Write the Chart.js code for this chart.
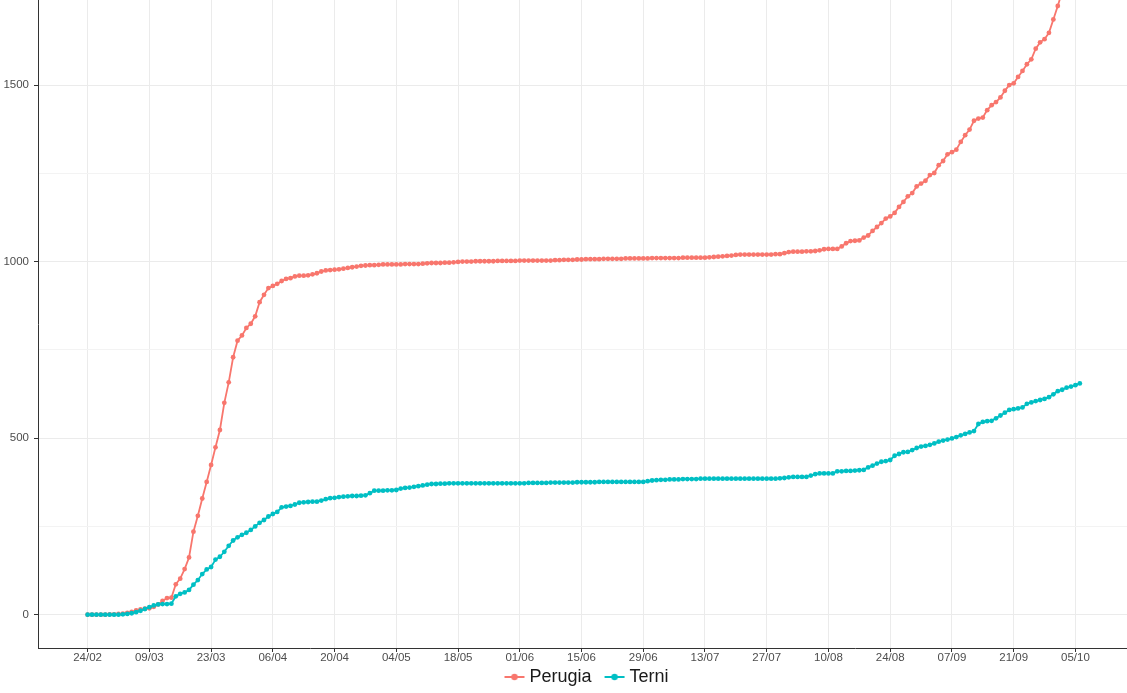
<!DOCTYPE html>
<html>
<head>
<meta charset="utf-8">
<script src="https://cdn.jsdelivr.net/npm/chart.js@4/dist/chart.umd.min.js"></script>
<style>
  html, body { margin: 0; padding: 0; background: #fff; }
</style>
</head>
<body>
<canvas id="casesChart" width="1127" height="693"></canvas>
<script>
// day 0 = 24/02, one value per day up to 06/10
const perugia = [
    0, 0, 0, 0, 0, 1, 1, 2, 3, 5,
    8, 12, 15, 17, 18, 22, 29, 39, 47, 48,
    86, 102, 129, 162, 235, 280, 329, 376, 424, 474,
    523, 600, 658, 729, 776, 791, 812, 824, 845, 885,
    906, 925, 931, 937, 945, 951, 953, 958, 960, 960,
    961, 964, 967, 972, 975, 976, 977, 978, 980, 982,
    984, 986, 988, 989, 990, 990, 991, 992, 992, 992,
    992, 992, 993, 993, 993, 993, 994, 995, 996, 996,
    996, 997, 997, 998, 999, 1000, 1000, 1000, 1001, 1001,
    1001, 1001, 1001, 1002, 1002, 1002, 1002, 1002, 1003, 1003,
    1003, 1003, 1003, 1003, 1003, 1003, 1004, 1004, 1005, 1005,
    1005, 1006, 1006, 1007, 1007, 1007, 1007, 1008, 1008, 1008,
    1008, 1008, 1009, 1009, 1009, 1009, 1009, 1009, 1010, 1010,
    1010, 1010, 1010, 1010, 1010, 1011, 1011, 1011, 1011, 1011,
    1011, 1012, 1013, 1014, 1015, 1016, 1017, 1019, 1020, 1020,
    1020, 1020, 1020, 1020, 1020, 1020, 1021, 1021, 1024, 1027,
    1028, 1028, 1028, 1029, 1029, 1030, 1032, 1035, 1036, 1036,
    1036, 1043, 1052, 1058, 1059, 1060, 1068, 1074, 1087, 1098,
    1109, 1122, 1128, 1138, 1155, 1169, 1185, 1194, 1213, 1221,
    1229, 1245, 1251, 1273, 1285, 1304, 1310, 1317, 1339, 1358,
    1374, 1399, 1405, 1408, 1429, 1443, 1452, 1465, 1484, 1500,
    1505, 1523, 1540, 1559, 1573, 1603, 1621, 1630, 1648, 1686,
    1724, 1765, 1800, 1840, 1875, 1910
];

const terni = [
    0, 0, 0, 0, 0, 0, 0, 0, 1, 2,
    4, 7, 11, 16, 21, 26, 29, 30, 30, 31,
    52, 59, 63, 70, 85, 98, 115, 128, 135, 156,
    164, 178, 195, 210, 219, 226, 232, 240, 250, 260,
    268, 278, 285, 291, 304, 306, 308, 312, 317, 318,
    319, 320, 320, 323, 327, 330, 331, 333, 334, 335,
    336, 336, 337, 338, 344, 351, 351, 351, 352, 352,
    353, 357, 359, 360, 362, 364, 366, 368, 370, 370,
    371, 371, 372, 372, 372, 372, 372, 372, 372, 372,
    372, 372, 372, 372, 372, 372, 372, 372, 372, 372,
    373, 373, 373, 373, 373, 374, 374, 374, 374, 374,
    374, 375, 375, 375, 375, 375, 376, 376, 376, 376,
    376, 376, 376, 376, 376, 376, 376, 378, 380, 381,
    382, 382, 383, 383, 383, 384, 384, 384, 384, 385,
    385, 385, 385, 385, 385, 385, 385, 385, 385, 385,
    385, 385, 385, 385, 385, 385, 385, 386, 387, 389,
    390, 390, 390, 390, 394, 398, 400, 400, 400, 400,
    406, 406, 407, 407, 408, 409, 410, 417, 422, 428,
    433, 435, 438, 450, 455, 460, 461, 466, 472, 476,
    478, 481, 485, 490, 493, 496, 499, 503, 508, 512,
    516, 520, 540, 546, 548, 549, 556, 564, 572, 580,
    582, 584, 587, 597, 601, 605, 608, 611, 616, 624,
    633, 637, 643, 646, 650, 655
];

const xTickDays = [0, 14, 28, 42, 56, 70, 84, 98, 112, 126, 140, 154, 168, 182, 196, 210, 224];
const xTickLabels = ['24/02', '09/03', '23/03', '06/04', '20/04', '04/05', '18/05', '01/06', '15/06',
    '29/06', '13/07', '27/07', '10/08', '24/08', '07/09', '21/09', '05/10'];
const yTickValues = [0, 500, 1000, 1500];
const yMinorValues = [250, 750, 1250];

const RED = '#F8766D';
const TEAL = '#00BFC4';
const FONT = 'Liberation Sans, Arial, sans-serif';

// ggplot-style key: short line with a dot, drawn off-centre so it sits
// close to its label and leaves a gap after the previous label
function legendGlyph(color) {
    const c = document.createElement('canvas');
    c.width = 36;
    c.height = 10;
    const g = c.getContext('2d');
    g.strokeStyle = color;
    g.lineWidth = 2;
    g.beginPath();
    g.moveTo(14, 5);
    g.lineTo(34, 5);
    g.stroke();
    g.fillStyle = color;
    g.beginPath();
    g.arc(24, 5, 3.2, 0, Math.PI * 2);
    g.fill();
    return c;
}

const toPoints = arr => arr.map((v, i) => ({ x: i, y: v }));
const isMajorY = v => yTickValues.includes(v);

// scales shouldn't reserve room for labels that are nowhere near the edges
const noEdgePadding = scale => {
    scale.paddingTop = 0;
    scale.paddingBottom = 0;
    scale.paddingLeft = 0;
    scale.paddingRight = 0;
};

new Chart(document.getElementById('casesChart'), {
    type: 'line',
    data: {
        datasets: [
            {
                label: 'Perugia',
                data: toPoints(perugia),
                borderColor: RED,
                backgroundColor: RED,
                borderWidth: 1.8,
                pointRadius: 2.4,
                pointBorderWidth: 0,
                pointHoverRadius: 3,
                order: 2
            },
            {
                label: 'Terni',
                data: toPoints(terni),
                borderColor: TEAL,
                backgroundColor: TEAL,
                borderWidth: 1.8,
                pointRadius: 2.4,
                pointBorderWidth: 0,
                pointHoverRadius: 3,
                order: 1
            }
        ]
    },
    options: {
        responsive: false,
        animation: false,
        layout: {
            autoPadding: false,
            padding: { left: 0, right: 0, top: 0, bottom: -3 }
        },
        scales: {
            x: {
                type: 'linear',
                min: -11.25,
                max: 235.7,
                afterBuildTicks: scale => {
                    scale.ticks = xTickDays.map(v => ({ value: v }));
                },
                afterFit: scale => {
                    scale.height = 15;
                    noEdgePadding(scale);
                },
                ticks: {
                    autoSkip: false,
                    maxRotation: 0,
                    padding: -1,
                    color: '#4D4D4D',
                    font: { family: FONT, size: 11.5 },
                    callback: value => xTickLabels[xTickDays.indexOf(value)]
                },
                grid: {
                    color: '#EBEBEB',
                    lineWidth: 1,
                    tickColor: '#333333',
                    tickLength: 4
                },
                border: { display: true, color: '#333333', width: 1 }
            },
            y: {
                type: 'linear',
                min: -94.5,
                max: 1741,
                afterBuildTicks: scale => {
                    scale.ticks = yTickValues.concat(yMinorValues)
                        .sort((a, b) => a - b)
                        .map(v => ({ value: v }));
                },
                afterFit: scale => {
                    scale.width = 38;
                    noEdgePadding(scale);
                },
                ticks: {
                    padding: 5,
                    color: '#4D4D4D',
                    font: { family: FONT, size: 11.5 },
                    callback: value => isMajorY(value) ? String(value) : ''
                },
                grid: {
                    color: ctx => isMajorY(ctx.tick.value) ? '#EBEBEB' : '#F3F3F3',
                    lineWidth: 1,
                    tickColor: ctx => isMajorY(ctx.tick.value) ? '#333333' : 'rgba(0,0,0,0)',
                    tickLength: 4
                },
                border: { display: true, color: '#333333', width: 1 }
            }
        },
        plugins: {
            legend: {
                position: 'bottom',
                fullSize: false,
                labels: {
                    usePointStyle: true,
                    pointStyleWidth: 24,
                    padding: 5,
                    color: '#1A1A1A',
                    font: { family: FONT, size: 18 },
                    generateLabels: chart => chart.data.datasets.map((ds, i) => ({
                        text: ds.label,
                        fillStyle: ds.borderColor,
                        strokeStyle: ds.borderColor,
                        fontColor: '#1A1A1A',
                        lineWidth: 0,
                        pointStyle: legendGlyph(ds.borderColor),
                        hidden: !chart.isDatasetVisible(i),
                        datasetIndex: i
                    }))
                }
            },
            tooltip: { enabled: false }
        }
    }
});
</script>
</body>
</html>
